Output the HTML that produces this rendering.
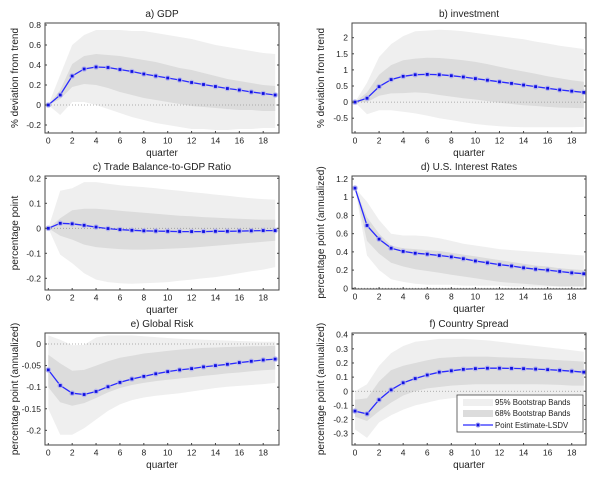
<!DOCTYPE html><html><head><meta charset="utf-8"><style>body{margin:0;background:#fff}svg{display:block;font-family:"Liberation Sans",sans-serif}</style></head><body>
<svg id="s" width="600" height="484" xmlns="http://www.w3.org/2000/svg"></svg>
<script>
const P=[
{t:"a) GDP",yl:"% deviation from trend",bx:[45,279,23,133],x0:48.3,dx:11.94,y0v:0.8,y0p:25,sc:100,ticks:[-0.2,0,0.2,0.4,0.6,0.8],
p:[0,0.1,0.29,0.36,0.38,0.375,0.355,0.335,0.31,0.29,0.27,0.25,0.225,0.205,0.185,0.165,0.15,0.13,0.115,0.1],
u68:[0,0.15,0.41,0.49,0.51,0.50,0.49,0.47,0.45,0.43,0.40,0.37,0.35,0.32,0.29,0.26,0.24,0.22,0.20,0.19],
l68:[0,0.06,0.18,0.21,0.2,0.17,0.13,0.1,0.07,0.05,0.03,0.01,-0.01,-0.02,-0.03,-0.04,-0.05,-0.05,-0.06,-0.06],
u95:[0,0.3,0.6,0.7,0.75,0.75,0.75,0.74,0.74,0.72,0.70,0.68,0.66,0.63,0.60,0.58,0.56,0.54,0.52,0.51],
l95:[0,-0.1,0.03,0.03,0.0,-0.04,-0.08,-0.12,-0.15,-0.18,-0.2,-0.22,-0.24,-0.24,-0.25,-0.25,-0.24,-0.24,-0.23,-0.23]},
{t:"b) investment",yl:"% deviation from trend",bx:[352,586,23,133],x0:355,dx:12.04,y0v:2,y0p:37.7,sc:32.2,ticks:[-0.5,0,0.5,1,1.5,2],
p:[0,0.12,0.48,0.7,0.8,0.85,0.86,0.85,0.82,0.78,0.73,0.68,0.63,0.58,0.53,0.48,0.43,0.38,0.34,0.3],
u68:[0,0.3,0.85,1.15,1.3,1.35,1.38,1.37,1.34,1.3,1.25,1.18,1.1,1.02,0.95,0.88,0.8,0.74,0.68,0.63],
l68:[0,0,0.2,0.27,0.28,0.3,0.28,0.22,0.17,0.12,0.08,0.03,-0.02,-0.06,-0.1,-0.12,-0.15,-0.17,-0.18,-0.19],
u95:[0,0.6,1.4,1.8,2.05,2.2,2.22,2.25,2.23,2.2,2.15,2.1,2.05,2.0,1.95,1.88,1.82,1.75,1.7,1.65],
l95:[0,-0.38,-0.25,-0.25,-0.3,-0.35,-0.42,-0.5,-0.56,-0.62,-0.68,-0.72,-0.75,-0.77,-0.78,-0.78,-0.78,-0.78,-0.78,-0.77]},
{t:"c) Trade Balance-to-GDP Ratio",yl:"percentage point",bx:[45,279,176,290],x0:48.3,dx:11.94,y0v:0.2,y0p:178.3,sc:250,ticks:[-0.2,-0.1,0,0.1,0.2],
p:[0,0.02,0.018,0.012,0.005,-0.001,-0.005,-0.008,-0.01,-0.011,-0.012,-0.013,-0.013,-0.013,-0.012,-0.012,-0.011,-0.01,-0.009,-0.009],
u68:[0,0.04,0.072,0.078,0.078,0.075,0.07,0.066,0.062,0.058,0.054,0.05,0.048,0.045,0.043,0.04,0.038,0.036,0.035,0.035],
l68:[0,-0.03,-0.045,-0.065,-0.075,-0.08,-0.083,-0.085,-0.085,-0.084,-0.082,-0.08,-0.077,-0.074,-0.07,-0.066,-0.062,-0.058,-0.054,-0.05],
u95:[0,0.15,0.16,0.185,0.185,0.178,0.172,0.168,0.165,0.16,0.155,0.15,0.145,0.14,0.135,0.13,0.125,0.12,0.117,0.115],
l95:[0,-0.105,-0.14,-0.18,-0.205,-0.215,-0.22,-0.222,-0.22,-0.218,-0.215,-0.21,-0.205,-0.2,-0.195,-0.188,-0.18,-0.172,-0.165,-0.155]},
{t:"d) U.S. Interest Rates",yl:"percentage point (annualized)",bx:[352,586,176,289],x0:355,dx:12.04,y0v:1.2,y0p:179,sc:91.1,ticks:[0,0.2,0.4,0.6,0.8,1,1.2],
p:[1.1,0.69,0.54,0.44,0.405,0.385,0.375,0.36,0.345,0.325,0.3,0.28,0.26,0.245,0.225,0.21,0.2,0.185,0.17,0.16],
u68:[1.1,0.78,0.6,0.47,0.44,0.43,0.42,0.41,0.39,0.37,0.35,0.33,0.31,0.29,0.27,0.25,0.24,0.22,0.21,0.2],
l68:[1.1,0.52,0.38,0.28,0.24,0.21,0.19,0.17,0.15,0.13,0.11,0.09,0.07,0.06,0.05,0.04,0.03,0.02,0.02,0.02],
u95:[1.1,0.95,0.75,0.6,0.58,0.58,0.57,0.55,0.52,0.49,0.47,0.45,0.43,0.42,0.41,0.4,0.39,0.38,0.37,0.36],
l95:[1.1,0.36,0.2,0.1,0.07,0.05,0.04,0.04,0.04,0.03,0.03,0.03,0.03,0.02,0.02,0.02,0.02,0.02,0.02,0.02]},
{t:"e) Global Risk",yl:"percentage point (annualized)",bx:[45,279,333,445],x0:48.3,dx:11.94,y0v:0,y0p:344,sc:431.7,ticks:[-0.2,-0.15,-0.1,-0.05,0],
p:[-0.06,-0.096,-0.114,-0.117,-0.11,-0.099,-0.089,-0.081,-0.075,-0.069,-0.064,-0.06,-0.057,-0.053,-0.05,-0.047,-0.043,-0.04,-0.037,-0.035],
u68:[-0.025,-0.045,-0.062,-0.06,-0.05,-0.04,-0.032,-0.027,-0.022,-0.019,-0.016,-0.013,-0.011,-0.009,-0.008,-0.007,-0.006,-0.005,-0.005,-0.004],
l68:[-0.1,-0.135,-0.143,-0.137,-0.125,-0.112,-0.102,-0.095,-0.09,-0.086,-0.083,-0.08,-0.077,-0.074,-0.071,-0.068,-0.066,-0.063,-0.061,-0.059],
u95:[0.02,0.01,-0.003,-0.002,0.015,0.02,0.02,0.02,0.018,0.016,0.014,0.012,0.011,0.01,0.009,0.008,0.007,0.006,0.005,0.005],
l95:[-0.15,-0.21,-0.21,-0.195,-0.175,-0.155,-0.14,-0.13,-0.124,-0.12,-0.117,-0.114,-0.11,-0.106,-0.102,-0.099,-0.097,-0.095,-0.093,-0.09]},
{t:"f) Country Spread",yl:"percentage point (annualized)",bx:[352,586,333,445],x0:355,dx:12.04,y0v:0.4,y0p:334.7,sc:141.4,ticks:[-0.3,-0.2,-0.1,0,0.1,0.2,0.3,0.4],leg:1,
p:[-0.14,-0.16,-0.06,0.01,0.06,0.09,0.115,0.135,0.145,0.155,0.16,0.163,0.163,0.162,0.16,0.157,0.153,0.148,0.142,0.135],
u68:[-0.06,-0.05,0.07,0.15,0.18,0.2,0.22,0.235,0.24,0.245,0.245,0.245,0.24,0.238,0.235,0.23,0.225,0.22,0.215,0.21],
l68:[-0.18,-0.21,-0.14,-0.08,-0.03,0.0,0.02,0.03,0.04,0.045,0.05,0.05,0.05,0.05,0.05,0.05,0.048,0.045,0.04,0.04],
u95:[0,0.05,0.18,0.27,0.32,0.35,0.36,0.37,0.37,0.37,0.365,0.36,0.35,0.34,0.33,0.32,0.31,0.3,0.29,0.28],
l95:[-0.27,-0.33,-0.22,-0.17,-0.13,-0.1,-0.08,-0.06,-0.05,-0.04,-0.03,-0.03,-0.025,-0.02,-0.02,-0.02,-0.02,-0.02,-0.02,-0.02]}];
let h="";
for(const c of P){
 const [L,R,T,B]=c.bx;
 const X=i=>c.x0+i*c.dx, Y=v=>c.y0p+(c.y0v-v)*c.sc;
 const band=(u,l,col)=>{let d=u.map((v,i)=>X(i).toFixed(1)+","+Y(v).toFixed(1)).join(" ")+" "+l.map((v,i)=>X(i).toFixed(1)+","+Y(v).toFixed(1)).reverse().join(" ");return `<polygon points="${d}" fill="${col}"/>`;};
 h+=`<rect x="${L}" y="${T}" width="${R-L}" height="${B-T}" fill="#fff"/>`;
 h+=`<svg x="0" y="0" width="600" height="484"><clipPath id="c${L}${T}"><rect x="${L}" y="${T}" width="${R-L}" height="${B-T}"/></clipPath><g clip-path="url(#c${L}${T})">`;
 h+=band(c.u95,c.l95,"#efefef")+band(c.u68,c.l68,"#dcdcdc");
 h+=`<line x1="${L}" x2="${R}" y1="${Y(0)}" y2="${Y(0)}" stroke="#999" stroke-width="0.8" stroke-dasharray="1,2"/>`;
 const pts=c.p.map((v,i)=>X(i).toFixed(1)+","+Y(v).toFixed(1)).join(" ");
 h+=`<polyline points="${pts}" fill="none" stroke="#2a2aff" stroke-width="1.3"/>`;
 c.p.forEach((v,i)=>{h+=`<circle cx="${X(i)}" cy="${Y(v)}" r="2.8" fill="#b0b0f0" opacity="0.85"/><rect x="${X(i)-1.4}" y="${Y(v)-1.4}" width="2.8" height="2.8" fill="#1010e0"/>`;});
 h+=`</g></svg>`;
 h+=`<rect x="${L}" y="${T}" width="${R-L}" height="${B-T}" fill="none" stroke="#444" stroke-width="1"/>`;
 for(let i=0;i<=18;i+=2){h+=`<line x1="${X(i)}" x2="${X(i)}" y1="${B}" y2="${B-2}" stroke="#444"/><text x="${X(i)}" y="${B+10.5}" font-size="8.5" text-anchor="middle" fill="#222">${i}</text>`;}
 for(const t of c.ticks){const y=Y(t);h+=`<line x1="${L}" x2="${L+2}" y1="${y}" y2="${y}" stroke="#444"/><line x1="${R}" x2="${R-2}" y1="${y}" y2="${y}" stroke="#444"/><text x="${L-4}" y="${y+3}" font-size="8.5" text-anchor="end" fill="#222">${+t.toFixed(2)}</text>`;}
 h+=`<text x="${(L+R)/2}" y="${B+23}" font-size="10" text-anchor="middle" fill="#222">quarter</text>`;
 h+=`<text x="${(L+R)/2}" y="${T-6}" font-size="10" text-anchor="middle" fill="#222">${c.t}</text>`;
 const yx=L<100?18:L-28; h+=`<text transform="translate(${yx},${(T+B)/2}) rotate(-90)" font-size="10" text-anchor="middle" fill="#222">${c.yl}</text>`;
 if(c.leg){h+=`<rect x="457" y="395" width="126" height="37" fill="#fff" stroke="#444" stroke-width="0.8"/>
 <rect x="463" y="399" width="30" height="7" fill="#efefef"/><text x="495" y="405" font-size="7.8" fill="#222">95% Bootstrap Bands</text>
 <rect x="463" y="410" width="30" height="7" fill="#dcdcdc"/><text x="495" y="416" font-size="7.8" fill="#222">68% Bootstrap Bands</text>
 <line x1="463" x2="493" y1="425" y2="425" stroke="#2a2aff" stroke-width="1.2"/><circle cx="478" cy="425" r="2.6" fill="#b0b0f0"/><rect x="476.6" y="423.6" width="2.8" height="2.8" fill="#1010e0"/><text x="495" y="428" font-size="7.8" fill="#222">Point Estimate-LSDV</text>`;}
}
document.getElementById("s").innerHTML=h;
</script></body></html>
